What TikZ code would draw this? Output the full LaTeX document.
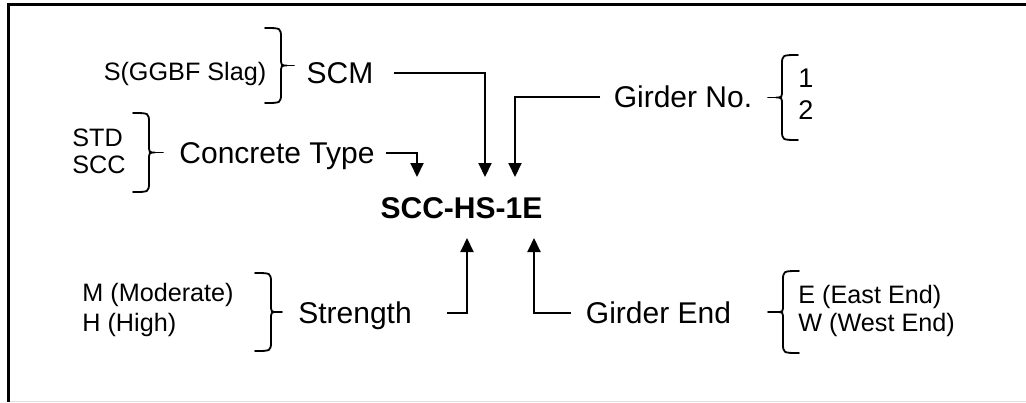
\documentclass[tikz,border=0pt]{standalone}
\usepackage{fontspec}
\setmainfont{Liberation Sans}
\usepackage{tikz}
\usetikzlibrary{arrows.meta,calc}
\tikzset{
  lbl/.style={
    inner sep=0pt, font=\fontsize{15}{18}\selectfont,
    text height=10.7pt, text depth=0pt
  },
  code/.style={
    inner xsep=0pt, inner ysep=9.7pt, font=\fontsize{15}{18}\selectfont\bfseries,
    text height=10.7pt, text depth=0pt
  },
  opt/.style={inner sep=0pt, align=left, font=\fontsize{12.6}{14}\selectfont},
  arr/.style={-{Triangle[length=7pt,width=6.5pt]}, line width=1pt},
  brc/.style={line width=0.9pt, line cap=round},
  frame/.style={line width=1.6pt},
  every picture/.append style={line join=miter}
}
% curly brace: #1 x of hooks, #2 top y, #3 bottom y, #4 side (1 right, -1 left), #5 stub
\newcommand{\brc}[5]{%
  \draw[brc] (#1,#2) .. controls ({#1+(#4)*16},#2) .. ({#1+(#4)*16},{#2+10})
    -- ({#1+(#4)*16},{(#2+#3)/2-8}) .. controls ({#1+(#4)*16},{(#2+#3)/2}) .. ({#1+(#4)*22},{(#2+#3)/2})
    .. controls ({#1+(#4)*16},{(#2+#3)/2}) .. ({#1+(#4)*16},{(#2+#3)/2+8})
    -- ({#1+(#4)*16},{#3-10}) .. controls ({#1+(#4)*16},#3) .. (#1,#3);
  \draw[brc] ({#1+(#4)*22},{(#2+#3)/2}) -- ++({(#4)*(#5)},0);
}

\begin{document}
\begin{tikzpicture}[x=0.5pt, y=-0.5pt]
  \useasboundingbox (0,0) rectangle (1026,402);
  \draw[frame] (1026,4.7) -| (8.5,402);
  \draw[black!12, line width=0.5pt] (10,401) -- (1026,401);

  % the code and its parts
  \node[code] (code) at (461.5,207.5) {SCC-HS-1E};
  \node[lbl] (scm) at (340,72.5) {SCM};
  \node[lbl] (ctype) at (277,153) {Concrete Type};
  \node[lbl] (gno) at (683,97) {Girder No.};
  \node[lbl] (strength) at (355,312.5) {Strength};
  \node[lbl] (gend) at (658.5,312.5) {Girder End};

  % options
  \node[opt, text height=9pt, text depth=0pt] (slag) at (185,71) {S(GGBF Slag)};
  \node[opt, anchor=west, font=\fontsize{12.6}{13.5}\selectfont] (stdscc) at (72,151.5) {STD\\SCC};
  \node[opt, anchor=west, font=\fontsize{12.6}{15}\selectfont] (mh) at (82,310) {M (Moderate)\\H (High)};
  \node[opt, anchor=west] (ew) at (798,311) {E (East End)\\W (West End)};
  \node[opt, anchor=west, font=\fontsize{13.5}{16}\selectfont] (nums) at (798,94) {1\\2};

  \brc{265}{28}{103}{1}{7}
  \brc{133}{113}{192}{1}{8}
  \brc{255}{273}{351}{1}{5}
  \brc{798}{55}{140}{-1}{8}
  \brc{799}{271}{353}{-1}{9}

  \draw[arr] ([xshift=10pt]scm.east) -| ([xshift=11.75pt]code.north);
  \draw[arr] ([xshift=5.5pt]ctype.east) -| ([xshift=-22.25pt]code.north);
  \draw[arr] ([xshift=-6.5pt]gno.west) -| ([xshift=26.75pt]code.north);
  \draw[arr] ([xshift=17.5pt]strength.east) -| ([xshift=2.75pt]code.south);
  \draw[arr] ([xshift=-7.5pt]gend.west) -| ([xshift=36.25pt]code.south);
\end{tikzpicture}
\end{document}
